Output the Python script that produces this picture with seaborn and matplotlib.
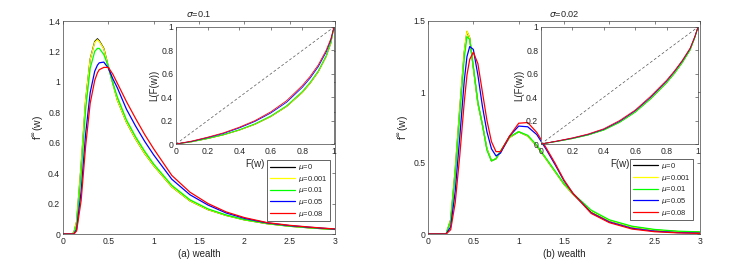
import numpy as np
import pandas as pd
import matplotlib
matplotlib.use("Agg")
import matplotlib.pyplot as plt
import seaborn as sns

sns.set_style("white")
plt.rcParams["font.family"] = ["Liberation Sans", "DejaVu Sans"]
plt.rcParams["mathtext.fontset"] = "dejavusans"

# ---------------- data ----------------
labels = [r"$\mu$=0", r"$\mu$=0.001", r"$\mu$=0.01", r"$\mu$=0.05", r"$\mu$=0.08"]
colors = ["#000000", "#ffff00", "#00ff00", "#0000ff", "#ff0000"]

# panel (a), sigma = 0.1
wa = [0, 0.1, 0.12, 0.15, 0.2, 0.25, 0.3, 0.35, 0.38, 0.4, 0.45, 0.5, 0.55, 0.6, 0.7, 0.8,
      0.9, 1.0, 1.2, 1.4, 1.6, 1.8, 2.0, 2.25, 2.5, 2.75, 3.0]
fa_mu0 = [0, 0, 0.01, 0.08, 0.45, 0.88, 1.15, 1.265, 1.283, 1.27, 1.22, 1.10, 0.99, 0.88, 0.735, 0.625,
          0.53, 0.45, 0.31, 0.218, 0.16, 0.122, 0.093, 0.068, 0.051, 0.039, 0.03]
fa_mu0001 = [0, 0, 0.01, 0.08, 0.45, 0.88, 1.148, 1.26, 1.277, 1.265, 1.217, 1.098, 0.988, 0.879, 0.735, 0.625,
             0.53, 0.45, 0.31, 0.218, 0.16, 0.122, 0.093, 0.068, 0.051, 0.039, 0.03]
fa_mu001 = [0, 0, 0.005, 0.06, 0.40, 0.82, 1.09, 1.20, 1.22, 1.22, 1.18, 1.10, 0.99, 0.90, 0.75, 0.64,
            0.545, 0.46, 0.32, 0.225, 0.165, 0.125, 0.095, 0.07, 0.052, 0.04, 0.03]
fa_mu005 = [0, 0, 0, 0.03, 0.28, 0.66, 0.93, 1.07, 1.11, 1.125, 1.13, 1.09, 1.02, 0.96, 0.82, 0.71,
            0.61, 0.52, 0.36, 0.258, 0.19, 0.138, 0.103, 0.073, 0.055, 0.043, 0.032]
fa_mu008 = [0, 0, 0, 0.02, 0.22, 0.58, 0.86, 1.01, 1.06, 1.08, 1.095, 1.095, 1.05, 0.99, 0.87, 0.76,
            0.655, 0.56, 0.385, 0.275, 0.20, 0.145, 0.108, 0.075, 0.057, 0.044, 0.033]

# panel (b), sigma = 0.02
wb = [0, 0.2, 0.25, 0.3, 0.35, 0.4, 0.43, 0.46, 0.5, 0.55, 0.6, 0.65, 0.7, 0.75, 0.8, 0.9, 1.0,
      1.1, 1.2, 1.3, 1.4, 1.5, 1.6, 1.8, 2.0, 2.25, 2.5, 2.75, 3.0]
fb_mu0 = [0, 0, 0.1, 0.45, 0.88, 1.28, 1.425, 1.38, 1.17, 0.92, 0.77, 0.60, 0.515, 0.53, 0.58, 0.68, 0.72,
          0.69, 0.62, 0.53, 0.44, 0.35, 0.28, 0.16, 0.095, 0.05, 0.028, 0.017, 0.012]
fb_mu0001 = [0, 0, 0.1, 0.45, 0.88, 1.28, 1.43, 1.38, 1.17, 0.92, 0.77, 0.60, 0.515, 0.53, 0.58, 0.68, 0.72,
             0.69, 0.62, 0.53, 0.44, 0.35, 0.28, 0.16, 0.095, 0.05, 0.028, 0.017, 0.012]
fb_mu001 = [0, 0, 0.09, 0.42, 0.84, 1.24, 1.39, 1.37, 1.18, 0.93, 0.77, 0.59, 0.515, 0.53, 0.585, 0.685, 0.72,
            0.695, 0.625, 0.535, 0.445, 0.355, 0.285, 0.168, 0.10, 0.055, 0.032, 0.02, 0.015]
fb_mu005 = [0, 0, 0.05, 0.30, 0.68, 1.08, 1.25, 1.32, 1.30, 1.12, 0.90, 0.72, 0.60, 0.55, 0.57, 0.69, 0.76,
            0.755, 0.70, 0.60, 0.49, 0.375, 0.285, 0.15, 0.085, 0.04, 0.02, 0.01, 0.006]
fb_mu008 = [0, 0, 0.03, 0.22, 0.55, 0.93, 1.12, 1.23, 1.28, 1.20, 1.00, 0.80, 0.65, 0.58, 0.58, 0.69, 0.78,
            0.785, 0.715, 0.61, 0.50, 0.38, 0.285, 0.145, 0.08, 0.035, 0.016, 0.008, 0.004]

# Lorenz curves (insets)
F = [0, 0.1, 0.2, 0.3, 0.4, 0.5, 0.6, 0.7, 0.8, 0.85, 0.9, 0.95, 0.98, 1.0]
La_mu0 = [0, 0.019, 0.046, 0.078, 0.118, 0.168, 0.234, 0.32, 0.44, 0.52, 0.615, 0.745, 0.86, 1.0]
La_mu0001 = [0, 0.019, 0.046, 0.078, 0.118, 0.168, 0.234, 0.32, 0.44, 0.52, 0.615, 0.745, 0.86, 1.0]
La_mu001 = [0, 0.02, 0.048, 0.08, 0.122, 0.173, 0.24, 0.327, 0.45, 0.53, 0.625, 0.755, 0.87, 1.0]
La_mu005 = [0, 0.023, 0.055, 0.09, 0.137, 0.193, 0.265, 0.357, 0.485, 0.565, 0.66, 0.785, 0.89, 1.0]
La_mu008 = [0, 0.025, 0.058, 0.095, 0.143, 0.20, 0.275, 0.37, 0.50, 0.58, 0.675, 0.80, 0.90, 1.0]

Lb_mu0 = [0, 0.022, 0.047, 0.078, 0.12, 0.186, 0.274, 0.39, 0.525, 0.605, 0.697, 0.805, 0.91, 1.0]
Lb_mu0001 = [0, 0.022, 0.047, 0.078, 0.12, 0.186, 0.274, 0.39, 0.525, 0.605, 0.697, 0.805, 0.91, 1.0]
Lb_mu001 = [0, 0.022, 0.046, 0.077, 0.119, 0.184, 0.271, 0.387, 0.522, 0.602, 0.694, 0.803, 0.909, 1.0]
Lb_mu005 = [0, 0.024, 0.05, 0.082, 0.126, 0.194, 0.284, 0.402, 0.538, 0.619, 0.71, 0.816, 0.917, 1.0]
Lb_mu008 = [0, 0.025, 0.052, 0.085, 0.13, 0.20, 0.29, 0.41, 0.545, 0.625, 0.715, 0.82, 0.92, 1.0]

diag = [0, 1]

xticks_main = [0, 0.5, 1, 1.5, 2, 2.5, 3]
yticks_a = [0, 0.2, 0.4, 0.6, 0.8, 1, 1.2, 1.4]
yticks_b = [0, 0.5, 1, 1.5]
ticks_inset = [0, 0.2, 0.4, 0.6, 0.8, 1]

# ---------------- figure ----------------
W, H = 747, 268
fig = plt.figure(figsize=(W / 100, H / 100), dpi=100)

def frac(x0, x1, y0, y1):
    return [x0 / W, 1 - y1 / H, (x1 - x0) / W, (y1 - y0) / H]

FS = 6.2      # tick labels
LFS = 7.0     # axis labels
AXC = "#262626"

def fmt(v):
    return "%g" % v

def style(ax, xt, yt, xlim, ylim):
    ax.set_xlim(*xlim)
    ax.set_ylim(*ylim)
    ax.set_xticks(xt)
    ax.set_yticks(yt)
    ax.set_xticklabels([fmt(v) for v in xt])
    ax.set_yticklabels([fmt(v) for v in yt])
    ax.tick_params(direction="in", length=2.5, width=0.4, labelsize=FS, colors=AXC,
                   top=True, right=True, pad=2)
    for s in ax.spines.values():
        s.set_visible(True)
        s.set_linewidth(0.5)
        s.set_color("#444444")
    ax.set_facecolor("white")

panels = [
    dict(main=frac(63, 335, 21, 234), ins=frac(176, 334, 27, 144), w=wa,
         f=[fa_mu0, fa_mu0001, fa_mu001, fa_mu005, fa_mu008],
         L=[La_mu0, La_mu0001, La_mu001, La_mu005, La_mu008],
         yt=yticks_a, ylim=(0, 1.4), title=r"$\sigma$=0.1", xl="(a) wealth",
         leg=(0.982, 0.061)),
    dict(main=frac(428, 700, 21, 234), ins=frac(541, 698, 27, 144), w=wb,
         f=[fb_mu0, fb_mu0001, fb_mu001, fb_mu005, fb_mu008],
         L=[Lb_mu0, Lb_mu0001, Lb_mu001, Lb_mu005, Lb_mu008],
         yt=yticks_b, ylim=(0, 1.5), title=r"$\sigma$=0.02", xl="(b) wealth",
         leg=(0.974, 0.066)),
]

for p in panels:
    ax = fig.add_axes(p["main"])
    for lab, col, ys in zip(labels, colors, p["f"]):
        df = pd.DataFrame({"w": p["w"], "f": ys})
        sns.lineplot(data=df, x="w", y="f", color=col, linewidth=0.9, ax=ax,
                     label=lab, sort=False, estimator=None)
    style(ax, xticks_main, p["yt"], (0, 3), p["ylim"])
    ax.set_xlabel(p["xl"], fontsize=LFS, color=AXC, labelpad=2)
    ax.set_ylabel(r"f$^{\infty}$(w)", fontsize=LFS + 0.5, color=AXC, labelpad=2)
    ax.set_title(p["title"], fontsize=FS + 0.4, color=AXC, pad=3)
    leg = ax.legend(loc="lower right", bbox_to_anchor=p["leg"], borderaxespad=0,
                    fontsize=5.4, frameon=True, fancybox=False, framealpha=1,
                    handlelength=3.4, handletextpad=0.4, labelspacing=0.22,
                    borderpad=0.3)
    leg.get_frame().set_edgecolor("#262626")
    leg.get_frame().set_linewidth(0.5)
    for t in leg.get_texts():
        t.set_color(AXC)

    axi = fig.add_axes(p["ins"])
    dfd = pd.DataFrame({"F": diag, "L": diag})
    sns.lineplot(data=dfd, x="F", y="L", color="#555555", linewidth=0.5,
                 linestyle=(0, (4, 3)), ax=axi, sort=False, estimator=None)
    for col, ys in zip(colors, p["L"]):
        df = pd.DataFrame({"F": F, "L": ys})
        sns.lineplot(data=df, x="F", y="L", color=col, linewidth=0.6, ax=axi,
                     sort=False, estimator=None)
    style(axi, ticks_inset, ticks_inset, (0, 1), (0, 1))
    axi.set_xlabel("F(w)", fontsize=LFS, color=AXC, labelpad=2)
    axi.set_ylabel("L(F(w))", fontsize=LFS, color=AXC, labelpad=1)

fig.savefig("out.png", dpi=100)
